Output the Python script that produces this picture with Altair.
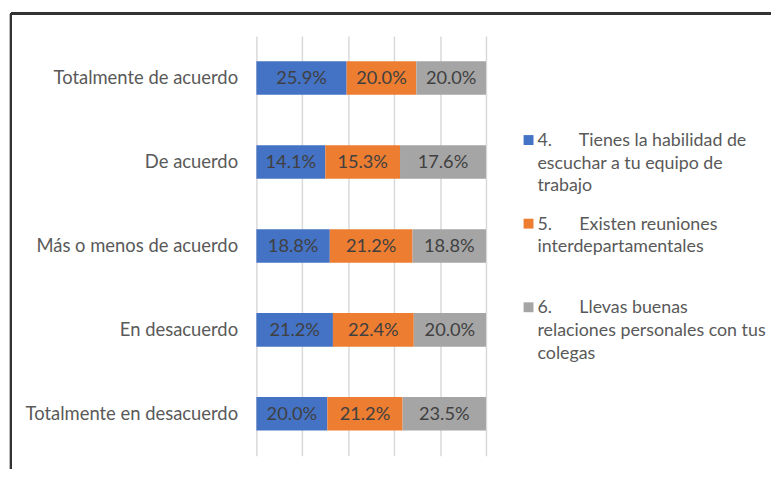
import altair as alt
import pandas as pd

NB = "\u00a0"
categories = ["Totalmente de acuerdo", "De acuerdo", "Más o menos de acuerdo",
              "En desacuerdo", "Totalmente en desacuerdo"]
series = [
    "4." + NB * 6 + "Tienes la habilidad de|escuchar a tu equipo de|trabajo",
    "5." + NB * 6 + "Existen reuniones|interdepartamentales",
    "6." + NB * 6 + "Llevas buenas|relaciones personales con tus|colegas",
]
s4 = [25.9, 14.1, 18.8, 21.2, 20.0]
s5 = [20.0, 15.3, 21.2, 22.4, 21.2]
s6 = [20.0, 17.6, 18.8, 20.0, 23.5]
colors = ["#4472C4", "#ED7D31", "#A5A5A5"]

rows = []
for i, vals in enumerate([s4, s5, s6]):
    for c, v in zip(categories, vals):
        rows.append({"cat": c, "serie": series[i], "order": i, "value": v,
                     "label": f"{v:.1f}%"})
df = pd.DataFrame(rows)

FONT = "Lato"
FS = 18.6

base = alt.Chart(df).transform_stack(
    stack="value", groupby=["cat"], as_=["x0", "x1"], offset="normalize",
    sort=[alt.SortField("order")]
).transform_calculate(xm="(datum.x0 + datum.x1) / 2")

ysc = alt.Y("cat:N", sort=categories,
            scale=alt.Scale(paddingInner=0.6, paddingOuter=0.3),
            axis=alt.Axis(title=None, domain=False, ticks=False, labelPadding=19,
                          labelLimit=400,
                          labelFont=FONT, labelFontSize=FS, labelColor="#595959"))

bars = base.mark_bar().encode(
    x=alt.X("x0:Q", scale=alt.Scale(domain=[0, 1], nice=False),
            axis=alt.Axis(values=[0, 0.2, 0.4, 0.6, 0.8, 1.0], labels=False, ticks=False,
                          domain=False, title=None, grid=True, gridColor="#D9D9D9",
                          gridWidth=1.5)),
    x2="x1:Q",
    y=ysc,
    color=alt.Color("serie:N", sort=series,
                    scale=alt.Scale(domain=series, range=colors),
                    legend=alt.Legend(title=None, orient="none", legendX=266, legendY=88,
                                      labelExpr="split(datum.label, '|')",
                                      labelFont=FONT, labelFontSize=18,
                                      labelColor="#595959", labelLimit=400,
                                      symbolType="M-1,0.6H1V2.6H-1Z", symbolSize=100,
                                      symbolStrokeWidth=0, labelBaseline="top",
                                      gridAlign="all", rowPadding=11.5, labelOffset=0)),
    order=alt.Order("order:Q"),
)

text = base.mark_text(font=FONT, fontSize=18.4, color="#404040").encode(
    x="xm:Q", y=alt.Y("cat:N", sort=categories), text="label:N"
)

frame_l = alt.Chart(df).mark_rule(color="#333333", strokeWidth=2).encode(
    x=alt.value(-248), y=alt.value(-23), y2=alt.value(460))
frame_t = alt.Chart(df).mark_rule(color="#333333", strokeWidth=2).encode(
    x=alt.value(-248), x2=alt.value(530), y=alt.value(-23))

chart = alt.layer(bars, text, frame_l, frame_t).properties(
    width=232, height=424,
    padding={"left": 251, "top": 26, "right": 288, "bottom": 11},
    autosize=alt.AutoSizeParams(type="none"),
).configure(
    style={"guide-label": {"lineHeight": 23}}
).configure_view(stroke=None)

chart.save("out.html", embed_options={"renderer": "svg", "actions": False})
